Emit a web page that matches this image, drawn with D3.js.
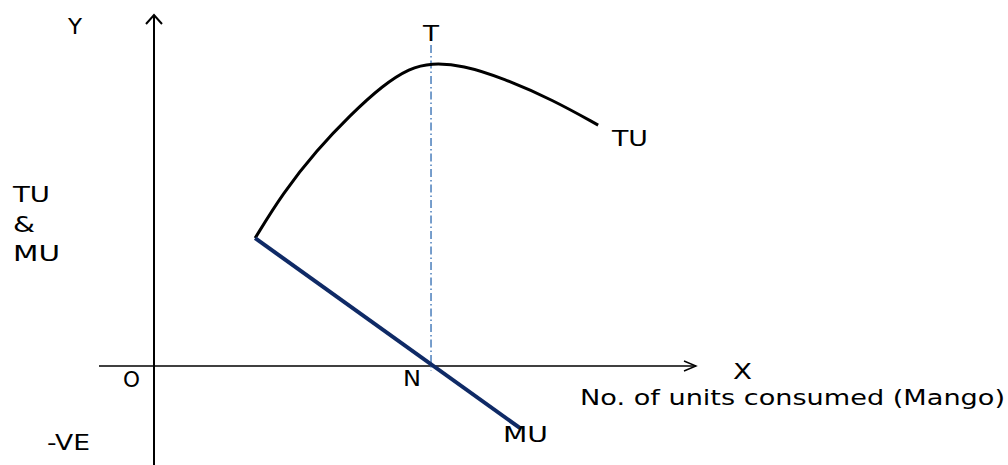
<!DOCTYPE html>
<html>
<head>
<meta charset="utf-8">
<script src="https://cdn.jsdelivr.net/npm/d3@7"></script>
<style>
  body { margin: 0; background: #fff; }
  svg { display: block; }
</style>
</head>
<body>
<div id="chart"></div>
<script>
// TU curve (units consumed, utility)
var tuX = [2.19, 2.79, 3.53, 4.25, 4.96, 5.54, 6.0, 6.69, 7.56, 8.64, 9.62];
var tuY = [4.22, 5.71, 7.13, 8.28, 9.27, 9.83, 10, 9.93, 9.5, 8.78, 7.95];

// MU is a straight line from the start of TU down past N
var muX = [2.19, 7.93];
var muY = [4.22, -2.05];

// point N where MU = 0 and TU is at its max
var nX = 6.0;

var width = 1008;
var height = 465;
var font = "DejaVu Sans";
var fontsize = 21;
var color_axis = "#000000";
var color_tu = "#000000";
var color_mu = "#0f2a66";
var color_guide = "#4a7ebb";

var x = d3.scaleLinear().domain([0, 10]).range([154, 154 + 10 * 46.17]);
var y = d3.scaleLinear().domain([0, 10]).range([366, 63]);

var svg = d3.select("#chart")
  .append("svg")
  .attr("width", width)
  .attr("height", height);

var x0 = x(0), y0 = y(0);

//y axis
svg.append("line")
  .attr("x1", x0).attr("x2", x0)
  .attr("y1", 15).attr("y2", height)
  .style("stroke", color_axis)
  .style("stroke-width", 2);

svg.append("path")
  .attr("d", "M" + (x0 - 8) + ",24L" + x0 + ",15L" + (x0 + 8) + ",24")
  .style("fill", "none")
  .style("stroke", color_axis)
  .style("stroke-width", 2);

//x axis
svg.append("line")
  .attr("x1", 99).attr("x2", 696)
  .attr("y1", y0).attr("y2", y0)
  .style("stroke", color_axis)
  .style("stroke-width", 1.4);

svg.append("path")
  .attr("d", "M684," + (y0 - 5) + "L696," + y0 + "L684," + (y0 + 5))
  .style("fill", "none")
  .style("stroke", color_axis)
  .style("stroke-width", 1.4);

//dash-dot guide through T and N
svg.append("line")
  .attr("x1", x(nX)).attr("x2", x(nX))
  .attr("y1", 45).attr("y2", y0 + 5)
  .style("stroke", color_guide)
  .style("stroke-width", 1.5)
  .style("stroke-dasharray", "8,3,1.5,3");

//TU curve
var tuData = tuX.map(function(d, i) { return [d, tuY[i]]; });
var tuLine = d3.line()
  .x(function(d) { return x(d[0]); })
  .y(function(d) { return y(d[1]); })
  .curve(d3.curveBasis);

svg.append("path")
  .datum(tuData)
  .attr("d", tuLine)
  .style("fill", "none")
  .style("stroke", color_tu)
  .style("stroke-width", 3);

//MU line
var muData = muX.map(function(d, i) { return [d, muY[i]]; });
svg.append("path")
  .datum(muData)
  .attr("d", d3.line().x(function(d) { return x(d[0]); }).y(function(d) { return y(d[1]); }))
  .style("fill", "none")
  .style("stroke", color_mu)
  .style("stroke-width", 4);

//labels: text, left x, baseline y, width
var labels = [
  ["Y", 68, 34, 14],
  ["T", 423, 41, 16],
  ["TU", 612, 146, 36],
  ["TU", 13, 202, 37],
  ["&", 13, 232, 22],
  ["MU", 13, 261, 47],
  ["O", 123, 387, 17],
  ["N", 403, 386, 18],
  ["MU", 503, 442, 45],
  ["X", 733, 379, 19],
  ["-VE", 47, 450, 43],
  ["No. of units consumed (Mango)", 580, 405, 425]
];

svg.selectAll("text.lbl")
  .data(labels)
  .enter()
  .append("text")
  .attr("class", "lbl")
  .attr("x", function(d) { return d[1]; })
  .attr("y", function(d) { return d[2]; })
  .attr("textLength", function(d) { return d[3]; })
  .attr("lengthAdjust", "spacingAndGlyphs")
  .style("font-family", font)
  .style("font-size", fontsize + "px")
  .style("fill", "#000")
  .text(function(d) { return d[0]; });
</script>
</body>
</html>
